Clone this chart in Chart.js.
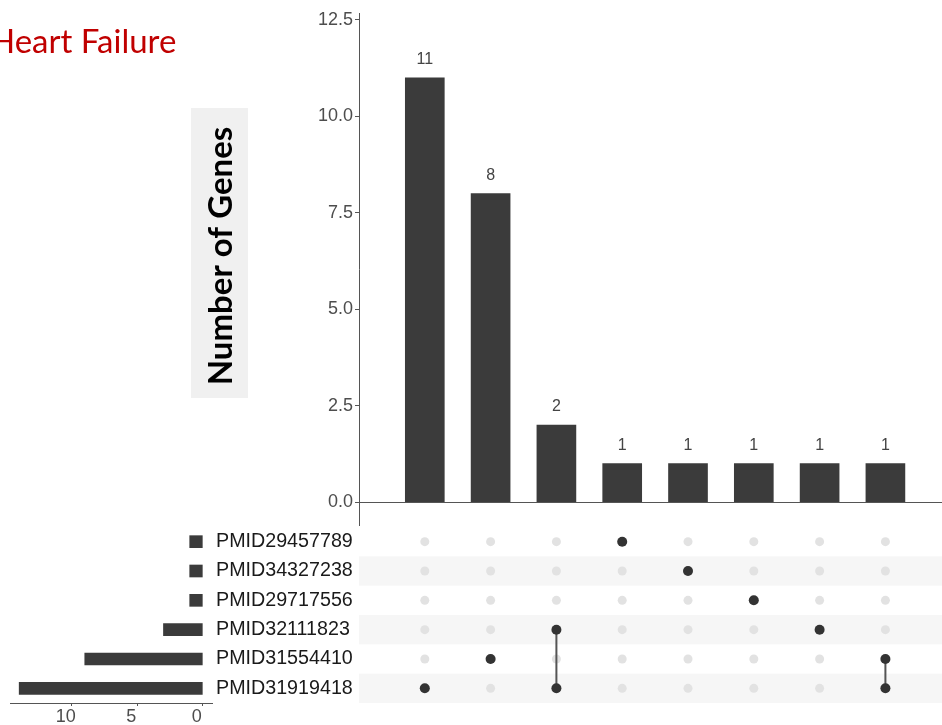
<!DOCTYPE html>
<html>
<head>
<meta charset="utf-8">
<script src="https://cdn.jsdelivr.net/npm/chart.js@4.4.0/dist/chart.umd.min.js"></script>
<style>
  html, body { margin: 0; padding: 0; background: #fff; }
  #wrap { position: relative; width: 942px; height: 725px; overflow: hidden; }
  #wrap canvas { position: absolute; left: 0; top: 0; }
</style>
</head>
<body>
<div id="wrap">
  <canvas id="set_chart" width="942" height="725"></canvas>
  <canvas id="matrix_chart" width="942" height="725"></canvas>
  <canvas id="bar_chart" width="942" height="725"></canvas>
</div>
<script>
// sets (rows of the matrix, top to bottom) and their sizes
const setNames = ['PMID29457789', 'PMID34327238', 'PMID29717556', 'PMID32111823', 'PMID31554410', 'PMID31919418'];
const setSizes = [1, 1, 1, 3, 9, 14];

// intersections (columns), left to right
const interCounts = [11, 8, 2, 1, 1, 1, 1, 1];
const interMembers = [
  ['PMID31919418'],
  ['PMID31554410'],
  ['PMID32111823', 'PMID31919418'],
  ['PMID29457789'],
  ['PMID34327238'],
  ['PMID29717556'],
  ['PMID32111823'],
  ['PMID31554410', 'PMID31919418'],
];

const countTicks = [0, 2.5, 5, 7.5, 10, 12.5];
const sizeTicks = [0, 5, 10];

const DARK = '#3b3b3b';
const AXIS = '#555555';
const TICKTXT = '#4d4d4d';
Chart.defaults.font.family = "'Liberation Sans', Arial, sans-serif";

// value labels on top of the bars + titles
const barLabels = {
  id: 'barLabels',
  afterDatasetsDraw(chart) {
    const ctx = chart.ctx;
    const meta = chart.getDatasetMeta(0);
    ctx.save();
    ctx.fillStyle = '#444';
    ctx.font = "16px 'Liberation Sans', Arial, sans-serif";
    ctx.textAlign = 'center';
    ctx.textBaseline = 'middle';
    meta.data.forEach((bar, i) => {
      ctx.fillText(String(interCounts[i]), bar.x, bar.y - 18);
    });
    ctx.restore();
  },
  afterDraw(chart) {
    const ctx = chart.ctx;
    ctx.save();
    // y title box
    ctx.fillStyle = '#f0f0f0';
    ctx.fillRect(191, 108, 57, 290);
    ctx.translate(232, 256);
    ctx.rotate(-Math.PI / 2);
    ctx.fillStyle = '#000';
    ctx.font = "bold 33px Lato, 'Liberation Sans', sans-serif";
    ctx.textAlign = 'center';
    ctx.textBaseline = 'alphabetic';
    ctx.fillText('Number of Genes', 0, 0);
    ctx.restore();

    ctx.save();
    ctx.fillStyle = '#c00000';
    ctx.font = "33px Lato, 'Liberation Sans', sans-serif";
    ctx.textAlign = 'left';
    ctx.textBaseline = 'alphabetic';
    ctx.fillText('Heart Failure', -10, 53);
    ctx.restore();
  }
};

// striped rows behind the matrix
const rowStripes = {
  id: 'rowStripes',
  beforeDatasetsDraw(chart) {
    const { ctx, chartArea, scales } = chart;
    ctx.save();
    ctx.fillStyle = '#f6f6f6';
    setNames.forEach((s, r) => {
      if (r % 2 === 1) {
        const y0 = scales.y.getPixelForValue(r - 0.5);
        const y1 = scales.y.getPixelForValue(r + 0.5);
        ctx.fillRect(chartArea.left, y0, chartArea.right - chartArea.left, y1 - y0);
      }
    });
    ctx.restore();
  }
};

function draw() {
  // intersection sizes
  new Chart(document.getElementById('bar_chart'), {
    type: 'bar',
    data: {
      datasets: [{
        data: interCounts.map((v, i) => ({ x: i + 1, y: v })),
        backgroundColor: DARK,
        barThickness: 39,
      }]
    },
    options: {
      responsive: false,
      animation: false,
      layout: { autoPadding: false, padding: { top: 13, bottom: 200, left: 0, right: 0 } },
      plugins: { legend: { display: false }, tooltip: { enabled: false } },
      scales: {
        x: { type: 'linear', min: 0, max: 8.86, offset: false, display: false },
        y: {
          min: -0.59,
          max: 12.68,
          afterFit(s) { s.width = 359; },
          afterBuildTicks(s) { s.ticks = countTicks.map(v => ({ value: v })); },
          ticks: {
            color: TICKTXT,
            font: { size: 18 },
            padding: 2,
            callback: v => Number(v).toFixed(1),
          },
          grid: {
            color: c => (c.tick && c.tick.value === 0) ? AXIS : 'rgba(0,0,0,0)',
            tickColor: AXIS,
            tickLength: 4,
            lineWidth: 1,
          },
          border: { display: true, color: AXIS, width: 1 },
        }
      }
    },
    plugins: [barLabels]
  });

  // membership matrix
  const bgDots = [];
  interCounts.forEach((c, col) => {
    setNames.forEach((s, row) => bgDots.push({ x: col + 1, y: row }));
  });
  const memberSets = interMembers.map((members, col) => ({
    type: 'line',
    data: members.map(m => ({ x: col + 1, y: setNames.indexOf(m) })),
    showLine: true,
    borderColor: AXIS,
    borderWidth: 2,
    pointRadius: 5,
    pointBackgroundColor: '#333',
    pointBorderWidth: 0,
    order: 1,
  }));

  new Chart(document.getElementById('matrix_chart'), {
    type: 'scatter',
    data: {
      datasets: [
        ...memberSets,
        {
          data: bgDots,
          pointRadius: 4.5,
          pointBackgroundColor: '#e2e2e2',
          pointBorderWidth: 0,
          order: 2,
        }
      ]
    },
    options: {
      responsive: false,
      animation: false,
      layout: { autoPadding: false, padding: { top: 527, bottom: 22, left: 359, right: 0 } },
      plugins: { legend: { display: false }, tooltip: { enabled: false } },
      scales: {
        x: { type: 'linear', min: 0, max: 8.86, display: false },
        y: { type: 'linear', min: -0.5, max: 5.5, reverse: true, display: false },
      }
    },
    plugins: [rowStripes]
  });

  // set sizes
  new Chart(document.getElementById('set_chart'), {
    type: 'bar',
    data: {
      labels: setNames,
      datasets: [{
        data: setSizes,
        backgroundColor: DARK,
        barThickness: 12,
      }]
    },
    options: {
      indexAxis: 'y',
      responsive: false,
      animation: false,
      layout: { autoPadding: false, padding: { top: 527, bottom: 0, left: 10, right: 580 } },
      plugins: { legend: { display: false }, tooltip: { enabled: false } },
      scales: {
        x: {
          min: -0.7,
          max: 14.7,
          reverse: true,
          afterFit(s) { s.height = 22; },
          afterBuildTicks(s) { s.ticks = sizeTicks.map(v => ({ value: v })); },
          ticks: { color: TICKTXT, font: { size: 18 }, padding: 0, maxRotation: 0, labelOffset: -6 },
          grid: { drawOnChartArea: false, drawTicks: true, tickLength: 3, color: AXIS },
          border: { display: true, color: AXIS, width: 1 },
        },
        y: {
          position: 'right',
          afterFit(s) { s.width = 150; },
          ticks: { color: '#1a1a1a', font: { size: 19.7 }, padding: 4 },
          grid: { display: false, drawTicks: false },
          border: { display: false },
        }
      }
    }
  });
}

if (document.fonts && document.fonts.load) {
  Promise.all([
    document.fonts.load("33px Lato"),
    document.fonts.load("bold 33px Lato"),
    document.fonts.load("17px 'Liberation Sans'"),
  ]).then(draw, draw);
} else {
  draw();
}
</script>
</body>
</html>
